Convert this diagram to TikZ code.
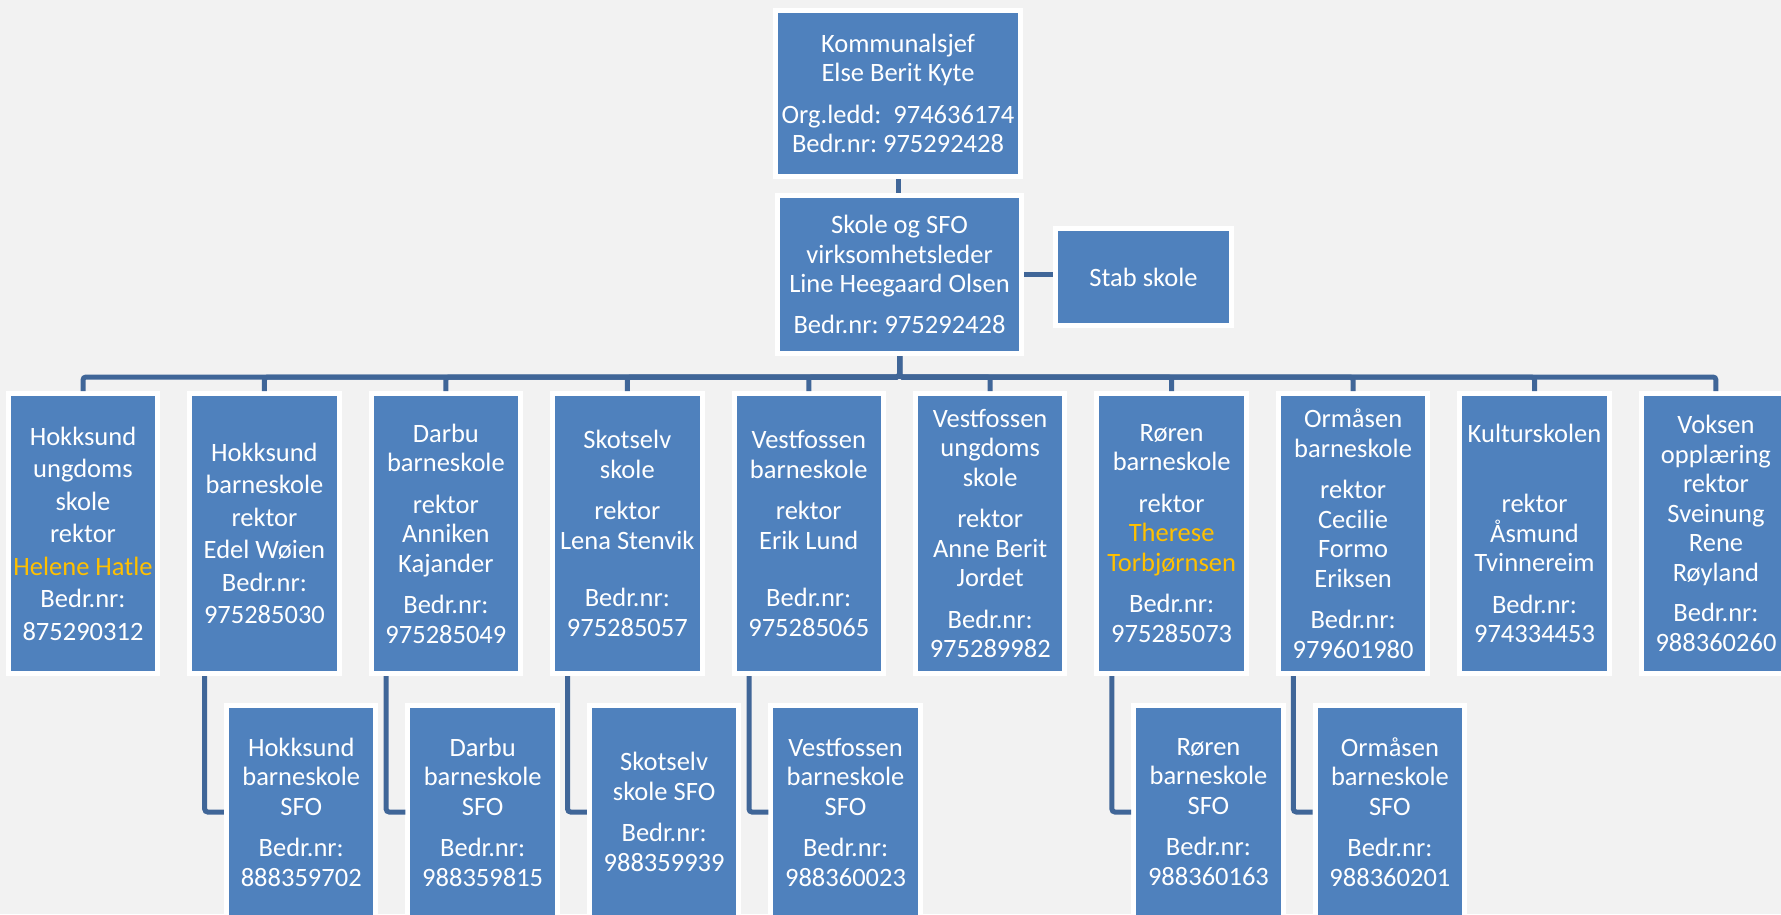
\documentclass[tikz,border=0pt]{standalone}
\usepackage{fontspec}
\setmainfont{Carlito}
\usepackage{xcolor}
\usetikzlibrary{positioning, calc}
\frenchspacing

\definecolor{bggray}{HTML}{F2F2F2}
\definecolor{boxblue}{HTML}{4F81BD}
\definecolor{lineblue}{RGB}{64,102,152}
\definecolor{nameyellow}{HTML}{FFC000}

\begin{document}
\begin{tikzpicture}[x=1pt, y=-1pt,
    unit/.style={rectangle, fill=boxblue, draw=white, line width=5pt, text=white,
        align=center, inner sep=1pt, font=\fontsize{26.5}{29.5}\selectfont},
    school/.style={unit, minimum width=149.5pt, minimum height=280pt},
    sfobox/.style={unit, minimum width=149.5pt, minimum height=213pt},
    link/.style={draw=lineblue, line width=5pt, rounded corners=3pt}]
% Background
\fill[bggray] (0,0) rectangle (1781,914);
\useasboundingbox (0,0) rectangle (1781,914);

% Top of the chart
\node[unit, minimum width=245pt, minimum height=166pt] (chief) at (898,93.5)
    {Kommunalsjef\\Else Berit Kyte\\[12pt]Org.ledd:\ \ 974636174\\Bedr.nr: 975292428};
\node[unit, minimum width=244pt, minimum height=158pt] (lead) at (899.5,274.5)
    {Skole og SFO\\virksomhetsleder\\Line Heegaard Olsen\\[11pt]Bedr.nr: 975292428};
\node[unit, minimum width=176pt, minimum height=97pt] (staff) at (1143.5,277) {Stab skole};

\draw[link] (chief.south) -- (chief.south |- lead.north);
\draw[link] (lead.east) -- (lead.east -| staff.west);

% Schools
\foreach \i/\txt in {
    1/{Hokksund\\[3pt]ungdoms\\[3pt]skole\\[3pt]rektor\\[3pt]\textcolor{nameyellow}{Helene Hatle}\\[3pt]Bedr.nr:\\[3pt]875290312},
    2/{Hokksund\\[3pt]barneskole\\[3pt]rektor\\[3pt]Edel Wøien\\[3pt]Bedr.nr:\\[3pt]975285030},
    3/{Darbu\\barneskole\\[12pt]rektor\\Anniken\\Kajander\\[12pt]Bedr.nr:\\975285049},
    4/{Skotselv\\skole\\[12pt]rektor\\Lena Stenvik\\[28pt]Bedr.nr:\\975285057},
    5/{Vestfossen\\barneskole\\[12pt]rektor\\Erik Lund\\[28pt]Bedr.nr:\\975285065},
    6/{Vestfossen\\ungdoms\\skole\\[12pt]rektor\\Anne Berit\\Jordet\\[12pt]Bedr.nr:\\975289982},
    7/{Røren\\barneskole\\[12pt]rektor\\\textcolor{nameyellow}{Therese}\\\textcolor{nameyellow}{Torbjørnsen}\\[12pt]Bedr.nr:\\975285073},
    8/{Ormåsen\\barneskole\\[12pt]rektor\\Cecilie\\Formo\\Eriksen\\[12pt]Bedr.nr:\\979601980},
    9/{Kulturskolen\\[41pt]rektor\\Åsmund\\Tvinnereim\\[12pt]Bedr.nr:\\974334453},
    10/{Voksen\\opplæring\\rektor\\Sveinung\\Rene\\Røyland\\[11pt]Bedr.nr:\\988360260}} {
    \node[school] (school\i) at ({83+181.44*(\i-1)},533.5) {\txt};
    \draw[link] (lead.south) -- ++(0,21) -| (school\i.north);
}

% SFO units
\foreach \i/\txt in {
    2/{Hokksund\\barneskole\\SFO\\[12pt]Bedr.nr:\\888359702},
    3/{Darbu\\barneskole\\SFO\\[12pt]Bedr.nr:\\988359815},
    4/{Skotselv\\skole SFO\\[12pt]Bedr.nr:\\988359939},
    5/{Vestfossen\\barneskole\\SFO\\[12pt]Bedr.nr:\\988360023},
    7/{Røren\\barneskole\\SFO\\[12pt]Bedr.nr:\\988360163},
    8/{Ormåsen\\barneskole\\SFO\\[12pt]Bedr.nr:\\988360201}} {
    \node[sfobox] (sfo\i) at ($(school\i)+(36.8,278.5)$) {\txt};
    \draw[link] ([xshift=17.5pt]school\i.south west) |- (sfo\i.west);
}
\end{tikzpicture}
\end{document}
